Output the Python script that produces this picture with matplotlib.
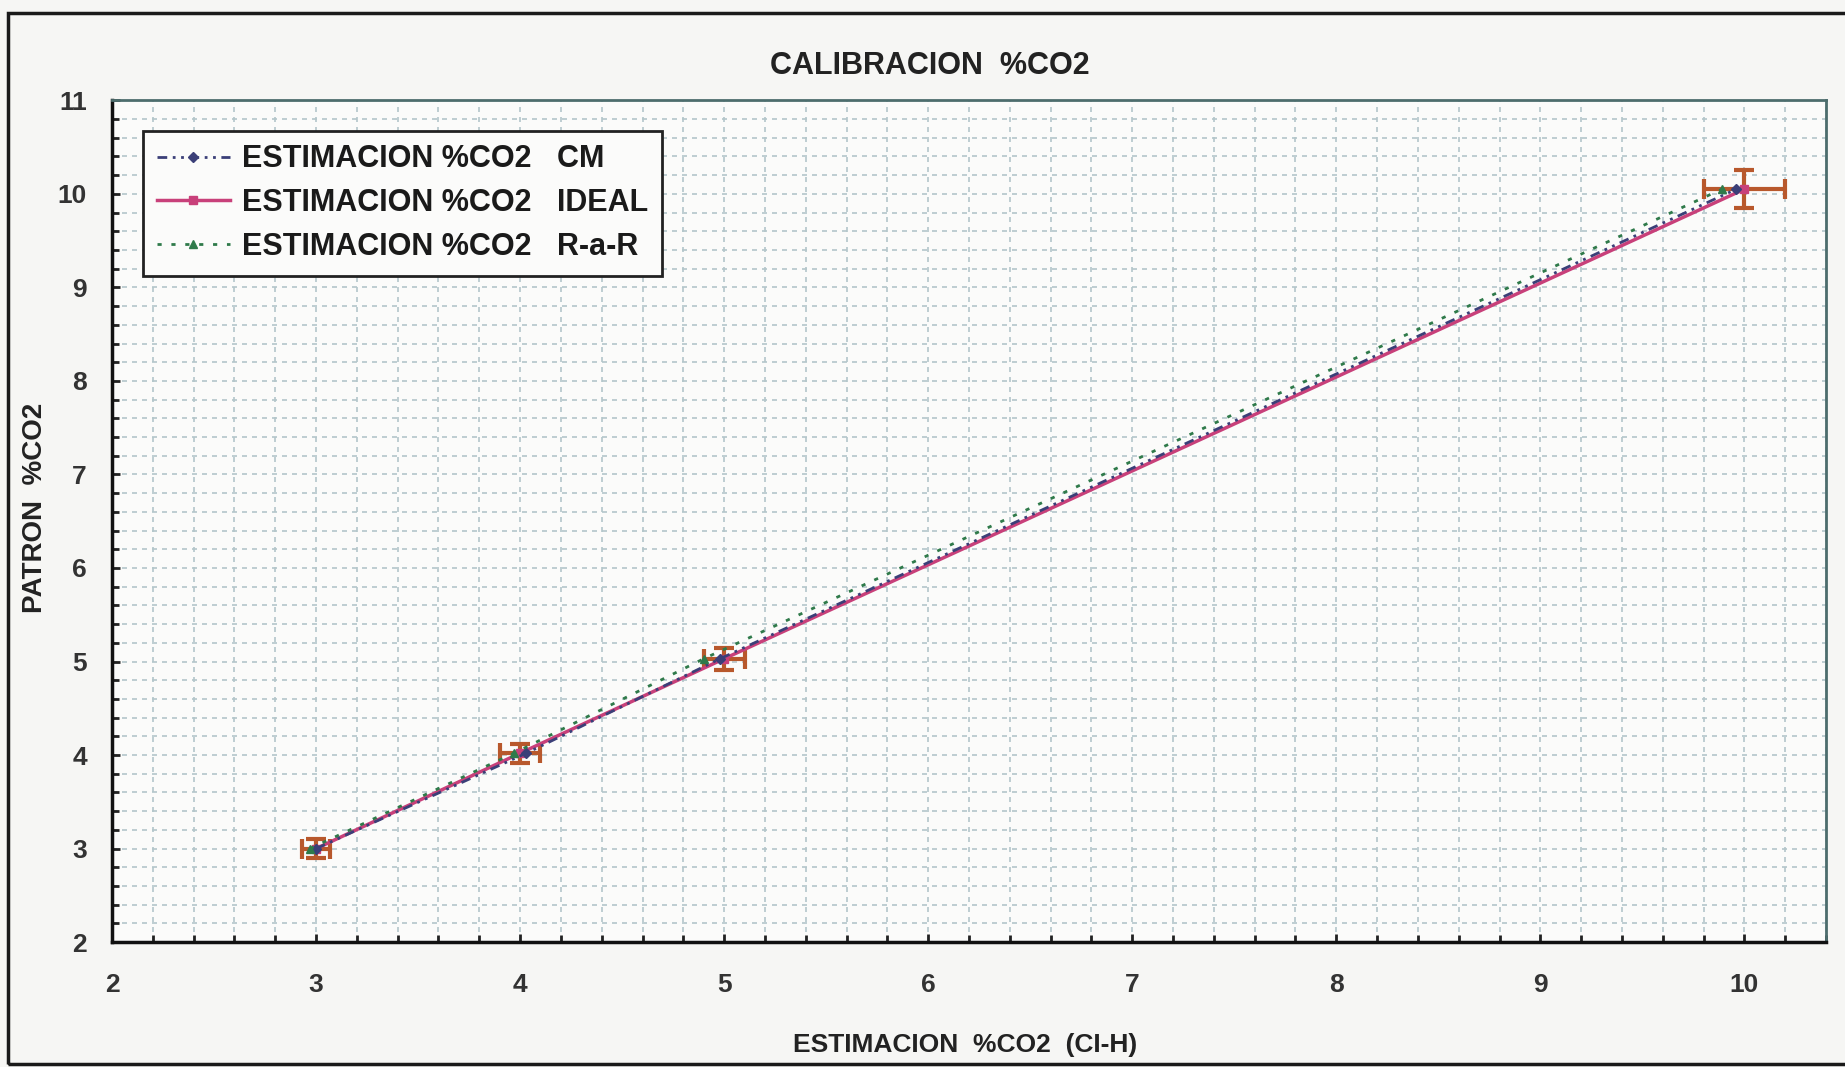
import matplotlib
matplotlib.use("Agg")
import matplotlib.pyplot as plt
from matplotlib.patches import Rectangle
from matplotlib.ticker import MultipleLocator

plt.rcParams['font.family'] = ['Liberation Sans', 'DejaVu Sans']
plt.rcParams['font.weight'] = 'bold'

# patron (reference) values and estimations
patron = [3.0, 4.02, 5.03, 10.05]
x_ideal = [3.0, 4.0, 5.0, 10.0]
x_cm = [3.0, 4.03, 4.98, 9.96]
x_rar = [2.97, 3.97, 4.9, 9.89]
err_x = [0.07, 0.1, 0.1, 0.2]
err_y = [0.1, 0.1, 0.12, 0.2]

labels = ['ESTIMACION %CO2   CM', 'ESTIMACION %CO2   IDEAL', 'ESTIMACION %CO2   R-a-R']

fig = plt.figure(figsize=(18.45, 10.67), dpi=100, facecolor='#f6f6f4')
ax = fig.add_axes([0.0607, 0.117, 0.929, 0.789])
ax.set_facecolor('#fbfbfa')

# outer frame of the chart
fig.patches.append(Rectangle((8 / 1845, 3 / 1067), 1.05, 1 - 16 / 1067,
                             transform=fig.transFigure, fill=False,
                             edgecolor='#1a1a1a', linewidth=2.5, clip_on=False))

ax.errorbar(x_ideal, patron, xerr=err_x, yerr=err_y, fmt='none',
            ecolor='#b8582c', elinewidth=3, capsize=7, capthick=3, zorder=3)

ax.plot(x_ideal, patron, color='#c8407a', lw=2.5, ls='-', marker='s', ms=6,
        label=labels[1], zorder=4)
ax.plot(x_cm, patron, color='#3b3f78', lw=2, ls=(0, (3.5, 2, 1, 2, 1, 2)),
        marker='D', ms=5, label=labels[0], zorder=5)
ax.plot(x_rar, patron, color='#2f7a4a', lw=2, ls=(0, (1.5, 3.5)),
        marker='^', ms=6, label=labels[2], zorder=5)

ax.set_xlim(2, 10.4)
ax.set_ylim(2, 11)
ax.xaxis.set_major_locator(MultipleLocator(1))
ax.yaxis.set_major_locator(MultipleLocator(1))
ax.xaxis.set_minor_locator(MultipleLocator(0.2))
ax.yaxis.set_minor_locator(MultipleLocator(0.2))
ax.grid(True, which='both', color='#b3c6ca', ls=(0, (3, 3)), lw=1.2)
ax.set_axisbelow(True)

ax.tick_params(which='both', direction='in', color='#222222', width=2)
ax.tick_params(which='major', length=6, labelsize=19)
ax.tick_params(axis='x', which='major', pad=22)
ax.tick_params(axis='y', which='major', pad=18)
ax.tick_params(which='minor', length=5)
for lab in ax.get_xticklabels() + ax.get_yticklabels():
    lab.set_fontweight('bold')
    lab.set_color('#333333')

for side in ['left', 'bottom']:
    ax.spines[side].set_color('#111111')
    ax.spines[side].set_linewidth(2.5)
for side in ['top', 'right']:
    ax.spines[side].set_color('#4d6d6d')
    ax.spines[side].set_linewidth(2)

fig.text(0.504, 0.938, 'CALIBRACION  %CO2', ha='center', va='center',
         fontsize=22, fontweight='bold', color='#222222')
fig.text(0.523, 0.021, 'ESTIMACION  %CO2  (CI-H)', ha='center', va='center',
         fontsize=19, fontweight='bold', color='#222222')
fig.text(0.019, 0.524, 'PATRON  %CO2', ha='center', va='center', rotation=90,
         fontsize=20, fontweight='bold', color='#222222')

handles, labs = ax.get_legend_handles_labels()
order = [1, 0, 2]
leg = ax.legend([handles[i] for i in order], [labs[i] for i in order],
                loc='upper left', bbox_to_anchor=(0.018, 0.964),
                borderaxespad=0, fontsize=22, handlelength=2.4,
                handletextpad=0.4, labelspacing=0.45, borderpad=0.45,
                fancybox=False, framealpha=1, facecolor='#fbfbfa',
                edgecolor='#222222')
leg.get_frame().set_linewidth(2)
for t in leg.get_texts():
    t.set_fontweight('bold')
    t.set_color('#1a1a1a')

fig.savefig('out.png', dpi=100, facecolor=fig.get_facecolor())
